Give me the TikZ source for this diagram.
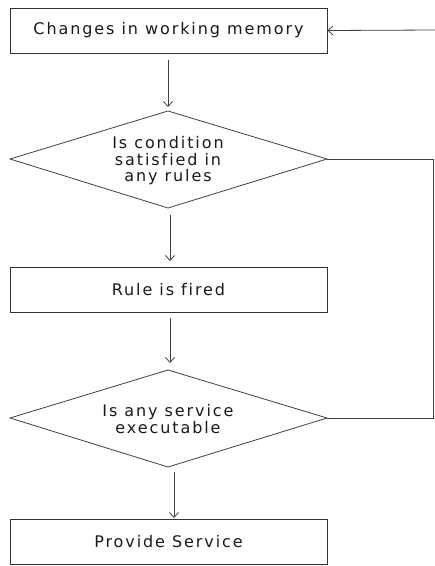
\documentclass[tikz,border=0pt]{standalone}
\usepackage{fontspec}
\setmainfont[LetterSpace=12,Ligatures=CommonOff]{DejaVu Sans}
\usetikzlibrary{arrows.meta}
\newcommand{\lowtext}[1]{\raisebox{-1.5pt}{#1}}
\begin{document}
\begin{tikzpicture}[x=1pt,y=-1pt,
  box/.style={draw=black!80,line width=0.8pt,minimum width=317pt,minimum height=45pt,inner sep=0pt,font=\fontsize{16}{16.5}\selectfont,text=black!90},
  dtext/.style={align=center,font=\fontsize{16}{16.5}\selectfont,text=black!90},
  conn/.style={draw=black!75,line width=0.8pt},
  arr/.style={conn,-{Straight Barb[length=5pt,width=9pt]}}]
\useasboundingbox (0,0) rectangle (435,566);
\node[box] (b1) at (168.5,30.5) {\lowtext{Changes in working memory}};
\node[box] (b2) at (168.5,289.5) {\lowtext{Rule is fired}};
\node[box] (b3) at (168.5,541.5) {\lowtext{Provide Service}};
% diamonds
\coordinate (d1t) at (168,111); \coordinate (d1b) at (168,208);
\coordinate (d1l) at (10,159); \coordinate (d1r) at (327,159);
\draw[conn] (d1t) -- (d1r) -- (d1b) -- (d1l) -- cycle;
\node[dtext] (d1) at (168,161) {Is condition\\satisfied in\\any rules};
\coordinate (d2t) at (168,370); \coordinate (d2b) at (168,467);
\coordinate (d2l) at (10,418); \coordinate (d2r) at (327,418);
\draw[conn] (d2t) -- (d2r) -- (d2b) -- (d2l) -- cycle;
\node[dtext] (d2) at (168,419) {Is any service\\executable};
% arrows
\coordinate (a1s) at (168,60); \coordinate (a1e) at (168,107);
\draw[arr] (a1s) -- (a1e);
\coordinate (a2s) at (170,215); \coordinate (a2e) at (170,261);
\draw[arr] (a2s) -- (a2e);
\coordinate (a3s) at (170,318); \coordinate (a3e) at (170,363);
\draw[arr] (a3s) -- (a3e);
\coordinate (a4s) at (174,472); \coordinate (a4e) at (174,518);
\draw[arr] (a4s) -- (a4e);
% feedback
\coordinate (fr1) at (433,159); \coordinate (fr2) at (433,418);
\draw[conn] (d1r) -- (fr1) -- (fr2) -- (d2r);
\coordinate (tin) at (435,30);
\draw[arr] (tin) -- (b1.east);
\end{tikzpicture}
\end{document}
